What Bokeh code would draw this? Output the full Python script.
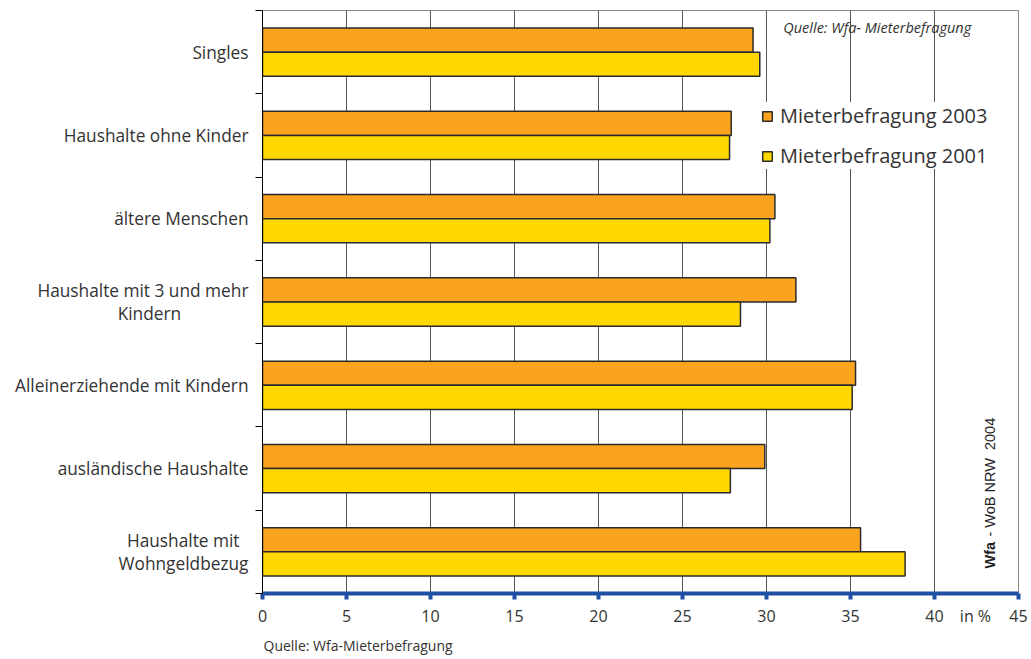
import math
from bokeh.plotting import figure
from bokeh.models import ColumnDataSource, Range1d, FixedTicker, Legend, LegendItem, Label, Title
from bokeh.embed import file_html
from bokeh.resources import INLINE

NB = "\u00a0"
categories = ["Singles", "Haushalte ohne Kinder", "ältere Menschen",
              "Haushalte mit 3 und mehr\nKindern" + NB * 15, "Alleinerziehende mit Kindern",
              "ausländische Haushalte", "Haushalte mit" + NB * 2 + "\nWohngeldbezug"]
values_2003 = [29.2, 27.9, 30.5, 31.75, 35.3, 29.9, 35.6]
values_2001 = [29.6, 27.8, 30.2, 28.45, 35.1, 27.85, 38.25]
x_ticks = [0, 5, 10, 15, 20, 25, 30, 35, 40, 45]
unit_pos = 42.44
unit_label = "in %"

n = len(categories)
centers = [n - i - 0.5 for i in range(n)]
bar_h = 0.29
src03 = ColumnDataSource(dict(y=[c + bar_h / 2 for c in centers], right=values_2003))
src01 = ColumnDataSource(dict(y=[c - bar_h / 2 for c in centers], right=values_2001))

FONT = "Open Sans"
TXT = "#333333"

p = figure(width=1031, height=659, output_backend="svg", toolbar_location=None,
           x_range=Range1d(0, 45), y_range=Range1d(0, n),
           min_border_left=262, min_border_right=13, min_border_top=10, min_border_bottom=66)
p.background_fill_color = "white"
p.border_fill_color = "white"
p.outline_line_color = "#888888"
p.outline_line_width = 1

# grid
p.ygrid.visible = False
p.xgrid.ticker = FixedTicker(ticks=x_ticks)
p.xgrid.grid_line_color = "#555555"
p.xgrid.grid_line_width = 1

# bars
r03 = p.hbar(y="y", right="right", left=0, height=bar_h, source=src03,
             fill_color="#F9A31E", line_color="#2b2b2b", line_width=1.5)
r01 = p.hbar(y="y", right="right", left=0, height=bar_h, source=src01,
             fill_color="#FFD800", line_color="#2b2b2b", line_width=1.5)

# x axis: tick marks as minor ticks, labels (incl. unit) as major ticks
xa = p.xaxis[0]
xa.ticker = FixedTicker(ticks=x_ticks + [unit_pos], minor_ticks=x_ticks)
xa.major_label_overrides = {unit_pos: unit_label}
xa.axis_line_color = "#1F4FA3"
xa.axis_line_width = 4
xa.major_tick_line_color = None
xa.major_tick_out = 6
xa.major_tick_in = 0
xa.minor_tick_line_color = "#1F4FA3"
xa.minor_tick_line_width = 4
xa.minor_tick_out = 6
xa.minor_tick_in = 0
xa.major_label_text_font = FONT
xa.major_label_text_font_size = "16px"
xa.major_label_text_color = TXT
xa.major_label_standoff = 5

# y axis: category labels as major ticks, boundary marks as minor ticks
ya = p.yaxis[0]
ya.ticker = FixedTicker(ticks=centers, minor_ticks=list(range(n + 1)))
ya.major_label_overrides = {c: lab for c, lab in zip(centers, categories)}
ya.axis_line_color = "black"
ya.axis_line_width = 1
ya.major_tick_line_color = None
ya.major_tick_out = 0
ya.major_tick_in = 0
ya.minor_tick_line_color = "black"
ya.minor_tick_out = 7
ya.minor_tick_in = 0
ya.major_label_standoff = 7
ya.major_label_text_font = FONT
ya.major_label_text_font_size = "17.3px"
ya.major_label_text_color = TXT
ya.major_label_text_line_height = 1.0
ya.major_label_text_align = "right"

# legend
legend = Legend(items=[LegendItem(label="Mieterbefragung 2003", renderers=[r03]),
                       LegendItem(label="Mieterbefragung 2001", renderers=[r01])],
                location=(499, 424), orientation="vertical")
legend.label_text_font = FONT
legend.label_text_font_size = "20px"
legend.label_text_color = TXT
legend.glyph_width = 12
legend.glyph_height = 12
legend.label_height = 24
legend.spacing = 13
legend.padding = 6
legend.margin = 0
legend.label_standoff = 7
legend.border_line_color = None
legend.background_fill_color = "white"
legend.background_fill_alpha = 1
p.add_layout(legend, "center")

# bottom source note
p.add_layout(Title(text="Quelle: Wfa-Mieterbefragung", align="left", offset=1,
                   text_font=FONT, text_font_size="14px", text_font_style="normal",
                   text_color=TXT, standoff=8), "below")

# texts inside frame
p.add_layout(Label(x=31.0, y=6.795, text="Quelle: Wfa- Mieterbefragung",
                   text_font=FONT, text_font_size="14.5px", text_font_style="italic",
                   text_color=TXT, text_baseline="middle", text_align="left"))
p.add_layout(Label(x=43.33, y=0.3, text="Wfa", angle=math.pi / 2,
                   text_font="Liberation Sans", text_font_size="14.5px", text_font_style="bold",
                   text_color="#222222", text_baseline="middle", text_align="left"))
p.add_layout(Label(x=43.33, y=0.3, y_offset=28, text=NB + "- WoB NRW " + NB + "2004", angle=math.pi / 2,
                   text_font="Liberation Sans", text_font_size="14.5px",
                   text_color="#222222", text_baseline="middle", text_align="left"))

open("out.html", "w").write(file_html(p, INLINE))
